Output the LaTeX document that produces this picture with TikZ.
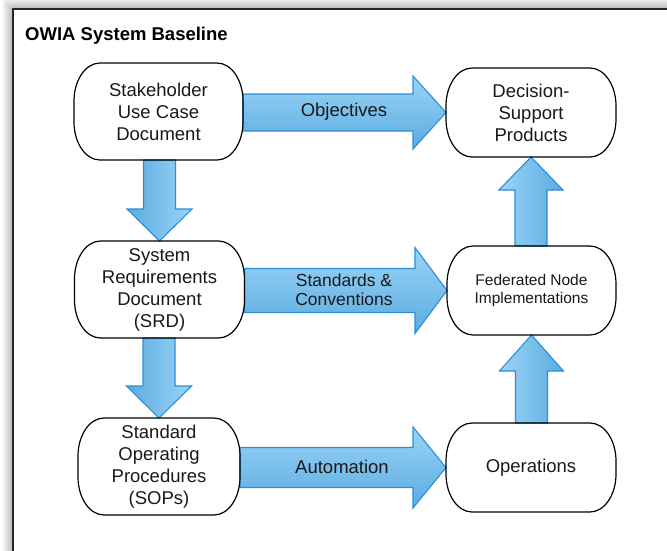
\documentclass[tikz,border=0pt]{standalone}
\usepackage{fontspec}
\setmainfont{Liberation Sans}
\usetikzlibrary{calc}
\definecolor{arlight}{HTML}{9CD4F6}
\definecolor{ardark}{HTML}{5AABE1}
\definecolor{arline}{HTML}{2A8FD6}
\tikzset{
  pill/.style={inner sep=0pt, outer sep=0pt, align=center,
    font=\fontsize{18.5}{22}\selectfont, text=black!90},
  pillline/.style={draw=black, line width=1.2pt},
  arlabel/.style={inner sep=0pt, align=center, font=\fontsize{18.5}{22}\selectfont, text=black!90},
  harrow/.style={draw=arline, line width=1.1pt, top color=arlight, bottom color=ardark, line join=miter},
  darrow/.style={draw=arline, line width=1.1pt, left color=ardark, right color=arlight, line join=miter},
  uarrow/.style={draw=arline, line width=1.1pt, left color=arlight, right color=ardark, line join=miter},
}
\newcommand\pillout[1]{%
  \draw[pillline] ([xshift=26pt]#1.north west) -- ([xshift=-26pt]#1.north east)
    arc[start angle=90,end angle=0,x radius=26pt,y radius=38pt]
    -- ([yshift=38pt]#1.south east)
    arc[start angle=0,end angle=-90,x radius=26pt,y radius=38pt]
    -- ([xshift=26pt]#1.south west)
    arc[start angle=270,end angle=180,x radius=26pt,y radius=38pt]
    -- ([yshift=-38pt]#1.north west)
    arc[start angle=180,end angle=90,x radius=26pt,y radius=38pt]
    -- cycle;}
% horizontal: from, to, shaft half, head half, head length
\newcommand\harr[5]{%
  \draw[harrow] ($(#1.east|-#2.west)+(0,#3)$) -- ($(#2.west)+(-#5,#3)$) -- ($(#2.west)+(-#5,#4)$)
    -- (#2.west) -- ($(#2.west)+(-#5,-#4)$) -- ($(#2.west)+(-#5,-#3)$)
    -- ($(#1.east|-#2.west)+(0,-#3)$) -- cycle;}
\newcommand\darr[5]{%
  \draw[darrow] ($(#1.south-|#2.north)+(-#3,0)$) -- ($(#2.north)+(-#3,#5)$) -- ($(#2.north)+(-#4,#5)$)
    -- (#2.north) -- ($(#2.north)+(#4,#5)$) -- ($(#2.north)+(#3,#5)$)
    -- ($(#1.south-|#2.north)+(#3,0)$) -- cycle;}
\newcommand\uarr[5]{%
  \draw[uarrow] ($(#1.north-|#2.south)+(-#3,0)$) -- ($(#2.south)+(-#3,-#5)$) -- ($(#2.south)+(-#4,-#5)$)
    -- (#2.south) -- ($(#2.south)+(#4,-#5)$) -- ($(#2.south)+(#3,-#5)$)
    -- ($(#1.north-|#2.south)+(#3,0)$) -- cycle;}
\begin{document}
\begin{tikzpicture}[x=1pt,y=1pt]
\useasboundingbox (0,0) rectangle (667,-550);
\fill[white] (0,0) rectangle (667,-550);
% frame shadow
\foreach \i in {1,...,11}{
  \fill[black,opacity=0.022] (13-\i,-9+\i) rectangle (700,-600);
}
\fill[white] (13,-9) rectangle (700,-600);
\draw[black!85, line width=1.5pt] (700,-9) -- (13,-9) -- (13,-600);
% title
\node[anchor=base west, inner sep=0pt, font=\bfseries\fontsize{18.5}{22}\selectfont] (title) at (25,-40.5) {OWIA System Baseline};
% nodes
\node[pill, minimum width=169, minimum height=97] (sh) at (158.5,-111.5) {Stakeholder\\Use Case\\Document};
\node[pill, minimum width=170, minimum height=97] (srd) at (159.5,-289.5) {System\\Requirements\\Document\\(SRD)};
\node[pill, minimum width=162, minimum height=97] (sop) at (159,-466.5) {Standard\\Operating\\Procedures\\(SOPs)};
\node[pill, minimum width=170, minimum height=89] (dsp) at (531,-112.5) {Decision-\\Support\\Products};
\node[pill, minimum width=169, minimum height=89, font=\fontsize{15.5}{18}\selectfont] (fed) at (531.5,-290.5) {Federated Node\\Implementations};
\node[pill, minimum width=170, minimum height=89] (ops) at (531,-467.5) {Operations};
% arrows
\harr{sh}{dsp}{18.5}{36.5}{33}
\harr{srd}{fed}{22}{43}{32}
\harr{sop}{ops}{20}{40.5}{33}
\darr{sh}{srd}{16}{32.5}{32}
\darr{srd}{sop}{16}{32.5}{32}
\uarr{ops}{fed}{16}{32}{36}
\uarr{fed}{dsp}{16}{32}{33}
% pill outlines
\foreach \n in {sh,srd,sop,dsp,fed,ops}{\pillout{\n}}
% labels
\node[arlabel] (lobj) at (344,-112) {Objectives};
\node[arlabel, font=\fontsize{17.5}{19}\selectfont] (lstd) at (344,-290) {Standards \&\\Conventions};
\node[arlabel] (laut) at (342,-467) {Automation};
\end{tikzpicture}
\end{document}
